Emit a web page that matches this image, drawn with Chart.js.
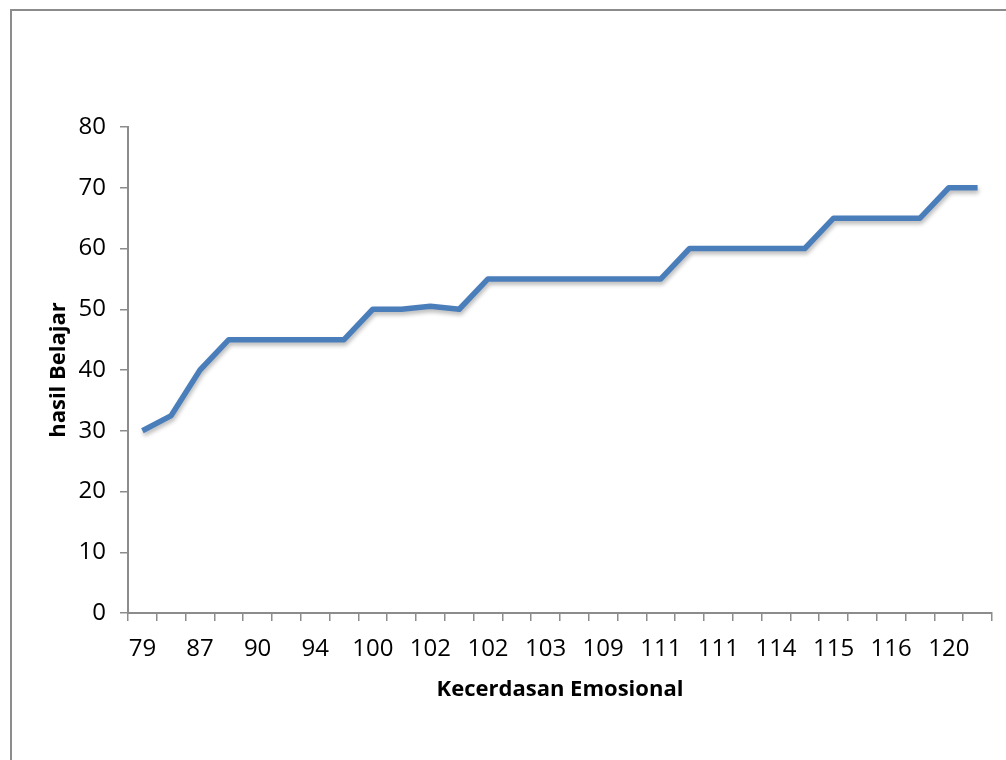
<!DOCTYPE html>
<html>
<head>
<meta charset="utf-8">
<script src="https://cdn.jsdelivr.net/npm/chart.js@4.4.1/dist/chart.umd.min.js"></script>
<style>
  html, body { margin: 0; padding: 0; background: #fff; }
  #wrap { position: relative; width: 1006px; height: 760px; }
  #frame { position: absolute; left: 10px; top: 9px; right: -4px; bottom: -4px;
           border-left: 2px solid #8c8c8c; border-top: 2px solid #8c8c8c; }
  canvas { position: absolute; left: 0; top: 0; }
</style>
</head>
<body>
<div id="wrap">
  <div id="frame"></div>
  <canvas id="c" width="1006" height="760"></canvas>
</div>
<script>
// Kecerdasan Emosional (sorted) - only every other label is visible in the picture
const categories = [79, 85, 87, 88, 90, 92, 94, 98, 100, 101,
                    102, 102, 102, 103, 103, 105, 109, 110, 111, 111,
                    111, 112, 114, 115, 115, 116, 116, 118, 120, 121];
const hasilBelajar = [30, 32.5, 40, 45, 45, 45, 45, 45, 50, 50,
                      50.5, 50, 55, 55, 55, 55, 55, 55, 55, 60,
                      60, 60, 60, 60, 65, 65, 65, 65, 70, 70];
const yTicks = [0, 10, 20, 30, 40, 50, 60, 70, 80];

const axisGray = '#8c8c8c';
const font = 'Open Sans';

// soft shadow under the line, like the office chart
const shadowPlugin = {
    id: 'lineShadow',
    beforeDatasetsDraw(chart) {
        const ctx = chart.ctx;
        ctx.save();
        ctx.shadowColor = 'rgba(0,0,0,0.28)';
        ctx.shadowBlur = 4;
        ctx.shadowOffsetX = 1;
        ctx.shadowOffsetY = 3;
    },
    afterDatasetsDraw(chart) {
        chart.ctx.restore();
    }
};

new Chart(document.getElementById('c'), {
    type: 'line',
    data: {
        labels: categories.map(String),
        datasets: [{
            label: 'hasil Belajar',
            data: hasilBelajar,
            borderColor: '#4a7ebb',
            borderWidth: 5.5,
            pointRadius: 0,
            tension: 0,
            fill: false,
            borderJoinStyle: 'round'
        }]
    },
    options: {
        responsive: false,
        animation: false,
        layout: {
            padding: { left: 46, top: 127, right: 14, bottom: 57 }
        },
        plugins: {
            legend: { display: false },
            tooltip: { enabled: false }
        },
        scales: {
            x: {
                type: 'category',
                offset: true,
                grid: {
                    offset: true,
                    drawOnChartArea: false,
                    drawTicks: true,
                    tickLength: 8,
                    color: axisGray,
                    lineWidth: 1.5
                },
                border: { color: axisGray, width: 2 },
                ticks: {
                    autoSkip: false,
                    maxRotation: 0,
                    padding: 14,
                    color: '#000',
                    font: { family: font, size: 24 },
                    callback: (v, i) => (i % 2 === 0 ? categories[i] : '')
                },
                title: {
                    display: true,
                    text: 'Kecerdasan Emosional',
                    color: '#000',
                    font: { family: font, size: 22, weight: 'bold' },
                    padding: { top: 6, bottom: 0 }
                },
                afterFit: (s) => { s.height = 90; }
            },
            y: {
                min: 0,
                max: 80,
                afterBuildTicks: (s) => { s.ticks = yTicks.map(v => ({ value: v })); },
                grid: {
                    drawOnChartArea: false,
                    drawTicks: true,
                    tickLength: 8,
                    color: axisGray,
                    lineWidth: 1.5
                },
                border: { color: axisGray, width: 2 },
                ticks: {
                    padding: 14,
                    color: '#000',
                    font: { family: font, size: 24 }
                },
                title: {
                    display: true,
                    text: 'hasil Belajar',
                    color: '#000',
                    font: { family: font, size: 22, weight: 'bold' },
                    padding: { top: 0, bottom: 4 }
                },
                afterFit: (s) => { s.width = 82; }
            }
        }
    },
    plugins: [shadowPlugin]
});
</script>
</body>
</html>
